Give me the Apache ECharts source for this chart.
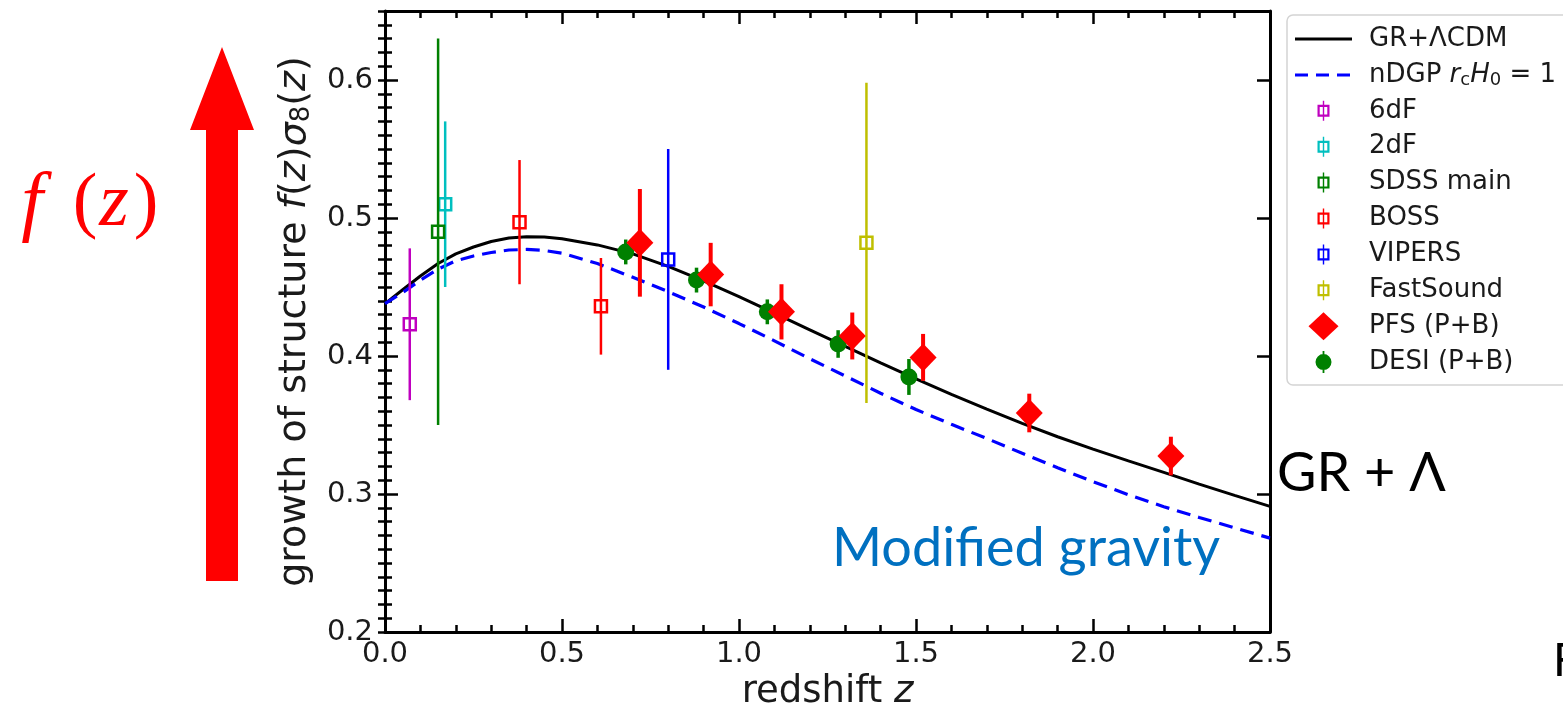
<!DOCTYPE html>
<html>
<head>
<meta charset="utf-8">
<script src="https://cdn.jsdelivr.net/npm/echarts@6/dist/echarts.min.js"></script>
<style>
  html, body { margin: 0; padding: 0; background: #fff; }
  #chart { width: 1563px; height: 711px; }
</style>
</head>
<body>
<div id="chart"></div>
<script>
// Growth-rate measurements, one row per point: [redshift z, f*sigma8, 1-sigma error]
const sixdF     = [[0.07, 0.423, 0.055]];
const twodF     = [[0.17, 0.510, 0.060]];
const sdssMain  = [[0.15, 0.490, 0.140]];
const boss      = [[0.38, 0.497, 0.045], [0.61, 0.436, 0.035]];
const vipers    = [[0.80, 0.470, 0.080]];
const fastSound = [[1.36, 0.482, 0.116]];
// Forecasts
const pfs  = [[0.72, 0.482, 0.039], [0.92, 0.459, 0.023], [1.12, 0.432, 0.020], [1.32, 0.4145, 0.017],
              [1.52, 0.399, 0.017], [1.82, 0.3587, 0.014], [2.22, 0.3275, 0.014]];
const desi = [[0.68, 0.4754, 0.009], [0.88, 0.455, 0.009], [1.08, 0.432, 0.009], [1.28, 0.4087, 0.010],
              [1.48, 0.3848, 0.013]];

// Model predictions sampled in redshift
const curveZ = [0, 0.05, 0.1, 0.15, 0.2, 0.25, 0.3, 0.35, 0.4, 0.45, 0.5, 0.6, 0.7, 0.8, 0.9, 1.0,
                1.1, 1.2, 1.3, 1.4, 1.5, 1.6, 1.7, 1.8, 1.9, 2.0, 2.1, 2.2, 2.3, 2.4, 2.5];
const grLcdm = [0.438, 0.448, 0.458, 0.467, 0.474, 0.479, 0.483, 0.4855, 0.4865, 0.4863, 0.4850,
                0.4805, 0.4740, 0.4650, 0.4545, 0.4430, 0.4310, 0.4190, 0.4070, 0.3950, 0.3835,
                0.3722, 0.3615, 0.3512, 0.3415, 0.3325, 0.3240, 0.3157, 0.3072, 0.2990, 0.2910];
const ndgp   = [0.438, 0.446, 0.455, 0.463, 0.469, 0.4725, 0.475, 0.4768, 0.4772, 0.4765, 0.4745,
                0.4670, 0.4570, 0.4466, 0.4355, 0.4235, 0.4110, 0.3980, 0.3855, 0.3730, 0.3612,
                0.3505, 0.3402, 0.3295, 0.3190, 0.3090, 0.2995, 0.2908, 0.2830, 0.2755, 0.2680];

// Axis ranges and tick steps
const xRange = [0, 2.5];
const xStep = 0.5;
const yRange = [0.2, 0.65];
const yStep = 0.1;
const yMinorStep = 0.01;

const FONT = '"DejaVu Sans", sans-serif';
const GR_NAME = 'GR+\u039BCDM';
const NDGP_NAME = 'nDGP rcH0 = 1';

// Legend icons (drawn in a 57 x 28 box; the two bare moves pin the box)
const BOX = 'path://M0 0 M57 28 ';
const ICON_LINE = BOX + 'M0 12.5 L57 12.5 L57 15.5 L0 15.5 Z';
const ICON_DASH = BOX + 'M0 12.5 L13 12.5 L13 15.5 L0 15.5 Z M21 12.5 L34 12.5 L34 15.5 L21 15.5 Z ' +
  'M42 12.5 L55 12.5 L55 15.5 L42 15.5 Z';
const ICON_SQUARE = BOX +
  'M22.5 8 L34.5 8 L34.5 20 L22.5 20 Z M24.7 10.2 L24.7 17.8 L32.3 17.8 L32.3 10.2 Z ' +
  'M27.8 4 L29.2 4 L29.2 8 L27.8 8 Z M27.8 20 L29.2 20 L29.2 24 L27.8 24 Z ' +
  'M27.8 10.2 L29.2 10.2 L29.2 17.8 L27.8 17.8 Z';
const ICON_DIAMOND = BOX + 'M13.5 14 L28.5 0 L43.5 14 L28.5 28 Z';
const ICON_DOT = BOX + 'M20.5 14 A8 8 0 1 1 36.5 14 A8 8 0 1 1 20.5 14 Z ' +
  'M27.6 3 L29.4 3 L29.4 6.5 L27.6 6.5 Z M27.6 21.5 L29.4 21.5 L29.4 25 L27.6 25 Z';

// Error-bar series: vertical bar from v-e to v+e plus a marker at v
function errorSeries(name, rows, color, marker, barWidth, z) {
  return {
    type: 'custom',
    name: name,
    z: z,
    data: rows,
    encode: { x: 0, y: 1 },
    itemStyle: { color: color },
    renderItem: function (params, api) {
      const zz = api.value(0), v = api.value(1), e = api.value(2);
      const c = api.coord([zz, v]);
      const lo = api.coord([zz, v - e]);
      const hi = api.coord([zz, v + e]);
      const children = [{
        type: 'line',
        shape: { x1: lo[0], y1: lo[1], x2: hi[0], y2: hi[1] },
        style: { stroke: color, lineWidth: barWidth }
      }];
      if (marker === 'square') {
        const s = 12;
        children.push({
          type: 'rect',
          shape: { x: c[0] - s / 2, y: c[1] - s / 2, width: s, height: s },
          style: { fill: 'none', stroke: color, lineWidth: 2.5 }
        });
      } else if (marker === 'diamond') {
        const w = 13.5, h = 14;
        children.push({
          type: 'polygon',
          shape: { points: [[c[0] - w, c[1]], [c[0], c[1] - h], [c[0] + w, c[1]], [c[0], c[1] + h]] },
          style: { fill: color }
        });
      } else {
        children.push({
          type: 'circle',
          shape: { cx: c[0], cy: c[1], r: 8.5 },
          style: { fill: color }
        });
      }
      return { type: 'group', children: children };
    }
  };
}

const frameLine = { show: true, onZero: false, lineStyle: { color: '#000', width: 3 } };
const majorTick = { show: true, inside: true, length: 13, lineStyle: { color: '#000', width: 2.5 } };
const minorTickStyle = { color: '#000', width: 2.5 };

const chart = echarts.init(document.getElementById('chart'), null, { renderer: 'canvas' });

chart.setOption({
  backgroundColor: '#fff',
  animation: false,
  grid: { left: 385, right: 293, top: 11, bottom: 79, containLabel: false, outerBoundsMode: 'none' },
  xAxis: [
    {
      type: 'value', position: 'bottom', min: xRange[0], max: xRange[1], interval: xStep,
      axisLine: frameLine, axisTick: majorTick,
      minorTick: { show: true, splitNumber: 5, length: 7, lineStyle: minorTickStyle },
      splitLine: { show: false }, minorSplitLine: { show: false },
      axisLabel: { show: true, fontSize: 29, color: '#1a1a1a', fontFamily: FONT, margin: 8,
                   formatter: function (v) { return v.toFixed(1); } },
      name: 'redshift {i|z}', nameLocation: 'middle', nameGap: 42,
      nameTextStyle: { fontSize: 37, color: '#1a1a1a', fontFamily: FONT,
                       rich: { i: { fontSize: 37, fontStyle: 'italic', color: '#1a1a1a', fontFamily: FONT } } }
    },
    {
      type: 'value', position: 'top', min: xRange[0], max: xRange[1], interval: xStep,
      axisLine: frameLine, axisTick: majorTick,
      minorTick: { show: true, splitNumber: 5, length: 7, lineStyle: minorTickStyle },
      splitLine: { show: false }, axisLabel: { show: false }
    }
  ],
  yAxis: [
    {
      type: 'value', position: 'left', min: yRange[0], max: yRange[1], interval: yStep,
      axisLine: frameLine, axisTick: majorTick, splitLine: { show: false },
      axisLabel: { show: true, fontSize: 29, color: '#1a1a1a', fontFamily: FONT, margin: 12,
                   showMaxLabel: false, formatter: function (v) { return v.toFixed(1); } },
      name: 'growth of structure {i|f}({i|z}){i|\u03C3}{sub|8}({i|z})',
      nameLocation: 'middle', nameGap: 70,
      nameTextStyle: {
        fontSize: 38, color: '#1a1a1a', fontFamily: FONT,
        rich: {
          i: { fontSize: 38, fontStyle: 'italic', color: '#1a1a1a', fontFamily: FONT },
          sub: { fontSize: 26, color: '#1a1a1a', fontFamily: FONT, padding: [13, 0, 0, 0] }
        }
      }
    },
    {
      type: 'value', position: 'right', min: yRange[0], max: yRange[1], interval: yStep,
      axisLine: frameLine, axisTick: majorTick, splitLine: { show: false }, axisLabel: { show: false }
    },
    {
      type: 'value', position: 'left', min: yRange[0], max: yRange[1], interval: yMinorStep,
      axisLine: { show: false }, splitLine: { show: false }, axisLabel: { show: false },
      axisTick: { show: true, inside: true, length: 7, lineStyle: minorTickStyle }
    },
    {
      type: 'value', position: 'right', min: yRange[0], max: yRange[1], interval: yMinorStep,
      axisLine: { show: false }, splitLine: { show: false }, axisLabel: { show: false },
      axisTick: { show: true, inside: true, length: 7, lineStyle: minorTickStyle }
    }
  ],
  legend: {
    orient: 'vertical', left: 1287, top: 15,
    itemWidth: 57, itemHeight: 28, itemGap: 7.9,
    padding: [10, 14, 9, 8],
    borderColor: '#d4d4d4', borderWidth: 1.5, borderRadius: 6, backgroundColor: '#fff',
    selectedMode: false,
    textStyle: {
      fontSize: 26, color: '#1a1a1a', fontFamily: FONT, padding: [0, 0, 0, 12],
      rich: {
        n: { fontSize: 26, color: '#1a1a1a', fontFamily: FONT },
        i: { fontSize: 26, fontStyle: 'italic', color: '#1a1a1a', fontFamily: FONT },
        sub: { fontSize: 18, color: '#1a1a1a', fontFamily: FONT, padding: [10, 0, 0, 0] }
      }
    },
    formatter: function (name) {
      return name === NDGP_NAME ? '{n|nDGP }{i|r}{sub|c}{i|H}{sub|0}{n| = 1}' : name;
    },
    data: [
      { name: GR_NAME, icon: ICON_LINE },
      { name: NDGP_NAME, icon: ICON_DASH },
      { name: '6dF', icon: ICON_SQUARE },
      { name: '2dF', icon: ICON_SQUARE },
      { name: 'SDSS main', icon: ICON_SQUARE },
      { name: 'BOSS', icon: ICON_SQUARE },
      { name: 'VIPERS', icon: ICON_SQUARE },
      { name: 'FastSound', icon: ICON_SQUARE },
      { name: 'PFS (P+B)', icon: ICON_DIAMOND },
      { name: 'DESI (P+B)', icon: ICON_DOT }
    ]
  },
  series: [
    {
      type: 'line', name: GR_NAME, z: 2, symbol: 'none', smooth: false,
      data: curveZ.map(function (z, i) { return [z, grLcdm[i]]; }),
      lineStyle: { color: '#000', width: 3 }, itemStyle: { color: '#000' }
    },
    {
      type: 'line', name: NDGP_NAME, z: 2, symbol: 'none', smooth: false,
      data: curveZ.map(function (z, i) { return [z, ndgp[i]]; }),
      lineStyle: { color: '#0000ff', width: 3.2, type: [14, 8] }, itemStyle: { color: '#0000ff' }
    },
    errorSeries('6dF', sixdF, '#bf00bf', 'square', 2.5, 3),
    errorSeries('2dF', twodF, '#00bfbf', 'square', 2.5, 3),
    errorSeries('SDSS main', sdssMain, '#008000', 'square', 2.5, 3),
    errorSeries('BOSS', boss, '#ff0000', 'square', 2.5, 3),
    errorSeries('VIPERS', vipers, '#0000ff', 'square', 2.5, 3),
    errorSeries('FastSound', fastSound, '#bfbf00', 'square', 2.5, 3),
    errorSeries('DESI (P+B)', desi, '#008000', 'circle', 3.5, 4),
    errorSeries('PFS (P+B)', pfs, '#ff0000', 'diamond', 4, 5)
  ],
  graphic: [
    // Big red arrow pointing up
    {
      type: 'polygon', z: 10,
      shape: { points: [[190, 130], [222, 47], [254, 130], [238, 130], [238, 581], [206, 581], [206, 130]] },
      style: { fill: '#ff0000' }
    },
    { type: 'text', z: 10, x: 32, y: 205,
      style: { text: 'f', font: 'italic 78px "Liberation Serif"', fill: '#ff0000',
               align: 'center', verticalAlign: 'middle', textAlign: 'center', textVerticalAlign: 'middle' } },
    { type: 'text', z: 10, x: 85, y: 205,
      style: { text: '(', font: '74px "Liberation Serif"', fill: '#ff0000',
               align: 'center', verticalAlign: 'middle', textAlign: 'center', textVerticalAlign: 'middle' } },
    { type: 'text', z: 10, x: 114, y: 205,
      style: { text: 'z', font: 'italic 76px "Liberation Serif"', fill: '#ff0000',
               align: 'center', verticalAlign: 'middle', textAlign: 'center', textVerticalAlign: 'middle' } },
    { type: 'text', z: 10, x: 146, y: 205,
      style: { text: ')', font: '74px "Liberation Serif"', fill: '#ff0000',
               align: 'center', verticalAlign: 'middle', textAlign: 'center', textVerticalAlign: 'middle' } },
    { type: 'text', z: 10, x: 1277, y: 474,
      style: { text: 'GR + \u039B', font: '54px Lato', fill: '#000',
               align: 'left', verticalAlign: 'middle', textAlign: 'left', textVerticalAlign: 'middle' } },
    { type: 'text', z: 10, x: 832, y: 549,
      style: { text: 'Modified gravity', font: '54px Lato', fill: '#0070c0',
               align: 'left', verticalAlign: 'middle', textAlign: 'left', textVerticalAlign: 'middle' } },
    { type: 'text', z: 10, x: 1553, y: 661,
      style: { text: 'F', font: '46px Lato', fill: '#000',
               align: 'left', verticalAlign: 'middle', textAlign: 'left', textVerticalAlign: 'middle' } }
  ]
});
</script>
</body>
</html>
